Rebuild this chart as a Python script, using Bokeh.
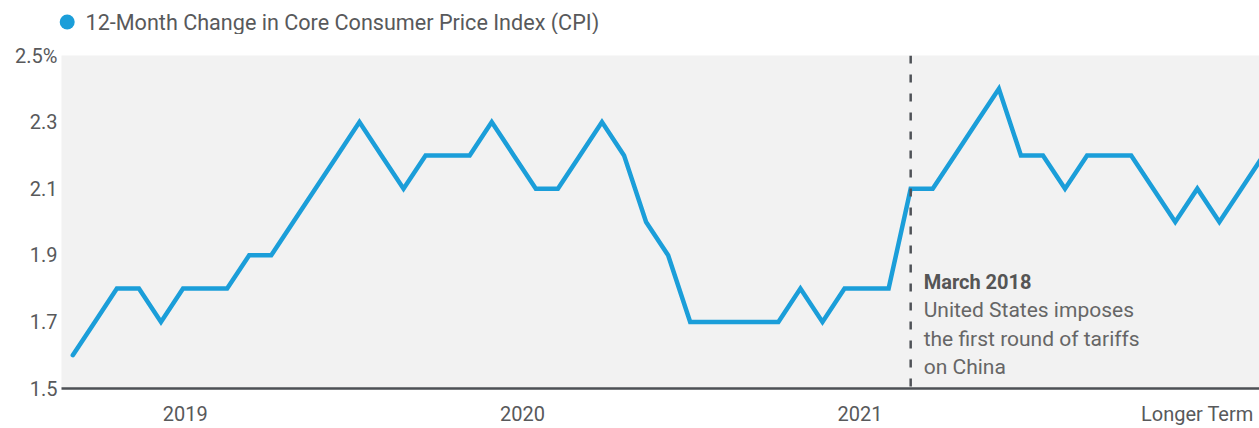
from bokeh.plotting import figure
from bokeh.layouts import column
from bokeh.models import Range1d, FixedTicker, Span, ColumnDataSource
from bokeh.core.properties import value
from bokeh.embed import file_html
from bokeh.resources import INLINE

# ---------------- data ----------------
series_name = "12-Month Change in Core Consumer Price Index (CPI)"
cpi_values = [1.6, 1.7, 1.8, 1.8, 1.7, 1.8, 1.8, 1.8, 1.9, 1.9,
              2.0, 2.1, 2.2, 2.3, 2.2, 2.1, 2.2, 2.2, 2.2, 2.3,
              2.2, 2.1, 2.1, 2.2, 2.3, 2.2, 2.0, 1.9, 1.7, 1.7,
              1.7, 1.7, 1.7, 1.8, 1.7, 1.8, 1.8, 1.8, 2.1, 2.1,
              2.2, 2.3, 2.4, 2.2, 2.2, 2.1, 2.2, 2.2, 2.2, 2.1,
              2.0, 2.1, 2.0, 2.1, 2.2]
x_labels = ["2019", "2020", "2021", "Longer Term"]
y_ticks = [1.5, 1.7, 1.9, 2.1, 2.3, 2.5]
y_tick_labels = ["1.5", "1.7", "1.9", "2.1", "2.3", "2.5%"]
event_index = 38
event_title = "March 2018"
event_lines = ["United States imposes", "the first round of tariffs", "on China"]

# ---------------- style ----------------
LINE_COLOR = "#1b9ed9"
TEXT_COLOR = "#58595b"
FONT = "Roboto"
W = 1259
HEADER_H = 34

# ---------------- header (legend) ----------------
hdr = figure(width=W, height=HEADER_H, output_backend="svg", toolbar_location=None,
             x_range=Range1d(0, W), y_range=Range1d(HEADER_H, 0),
             x_axis_location=None, y_axis_location=None, min_border=0)
hdr.outline_line_color = None
hdr.background_fill_color = "white"
hdr.border_fill_color = "white"
hdr.xgrid.visible = False
hdr.ygrid.visible = False
hdr.scatter(x=[66.7], y=[21.5], size=15, fill_color=LINE_COLOR, line_color=None)
hdr.text(x=[85], y=[21.5], text=[series_name], text_font=value(FONT),
         text_font_size="21.6px", text_color=TEXT_COLOR, text_baseline="middle",
         text_align="left")

# ---------------- main chart ----------------
months = list(range(len(cpi_values)))
src = ColumnDataSource(dict(x=months, y=cpi_values))

p = figure(width=W, height=428 - HEADER_H, output_backend="svg", toolbar_location=None,
           x_range=Range1d(-0.512, 53.82), y_range=Range1d(1.5, 2.5),
           min_border_left=61, min_border_right=0, min_border_top=55 - HEADER_H,
           min_border_bottom=40)
p.background_fill_color = "#f2f2f2"
p.border_fill_color = "white"
p.outline_line_color = None
p.xgrid.visible = False
p.ygrid.visible = False

for fig in (hdr, p):
    try:
        fig.frame_align = False
    except Exception:
        pass

# x axis
tick_pos = [round(5.1 + 15.3 * i, 2) for i in range(len(x_labels))]
xa = p.xaxis[0]
xa.ticker = FixedTicker(ticks=tick_pos)
xa.major_label_overrides = {t: lab for t, lab in zip(tick_pos, x_labels)}
xa.major_tick_line_color = None
xa.minor_tick_line_color = None
xa.major_tick_out = 0
xa.major_tick_in = 0
xa.axis_line_color = "#4d5055"
xa.axis_line_width = 2.5
xa.major_label_standoff = 13
xa.major_label_text_font = FONT
xa.major_label_text_font_size = "20px"
xa.major_label_text_color = TEXT_COLOR

# y axis
ya = p.yaxis[0]
ya.ticker = FixedTicker(ticks=y_ticks)
ya.major_label_overrides = {t: lab for t, lab in zip(y_ticks, y_tick_labels)}
ya.axis_line_color = None
ya.major_tick_line_color = None
ya.minor_tick_line_color = None
ya.major_tick_out = 0
ya.major_tick_in = 0
ya.major_label_standoff = 4
ya.major_label_text_font = FONT
ya.major_label_text_font_size = "20px"
ya.major_label_text_color = TEXT_COLOR

# event marker
p.add_layout(Span(location=event_index, dimension="height", line_color="#4f5257",
                  line_width=2.5, line_dash="8 11"))

# series line
p.line("x", "y", source=src, line_color=LINE_COLOR, line_width=4.5,
       line_join="miter", line_cap="round")

# event annotation
p.text(x=[event_index], y=[1.819], text=[event_title], x_offset=13,
       text_font=value(FONT), text_font_style="bold", text_font_size="20px",
       text_color="#555555", text_baseline="middle", text_align="left")
ann_y = [1.735, 1.649, 1.564]
p.text(x=[event_index] * len(event_lines), y=ann_y, text=event_lines, x_offset=13,
       text_font=value(FONT), text_font_size="21px", text_color="#666666",
       text_baseline="middle", text_align="left")

layout = column(hdr, p, spacing=0)
open("out.html", "w").write(file_html(layout, INLINE))
